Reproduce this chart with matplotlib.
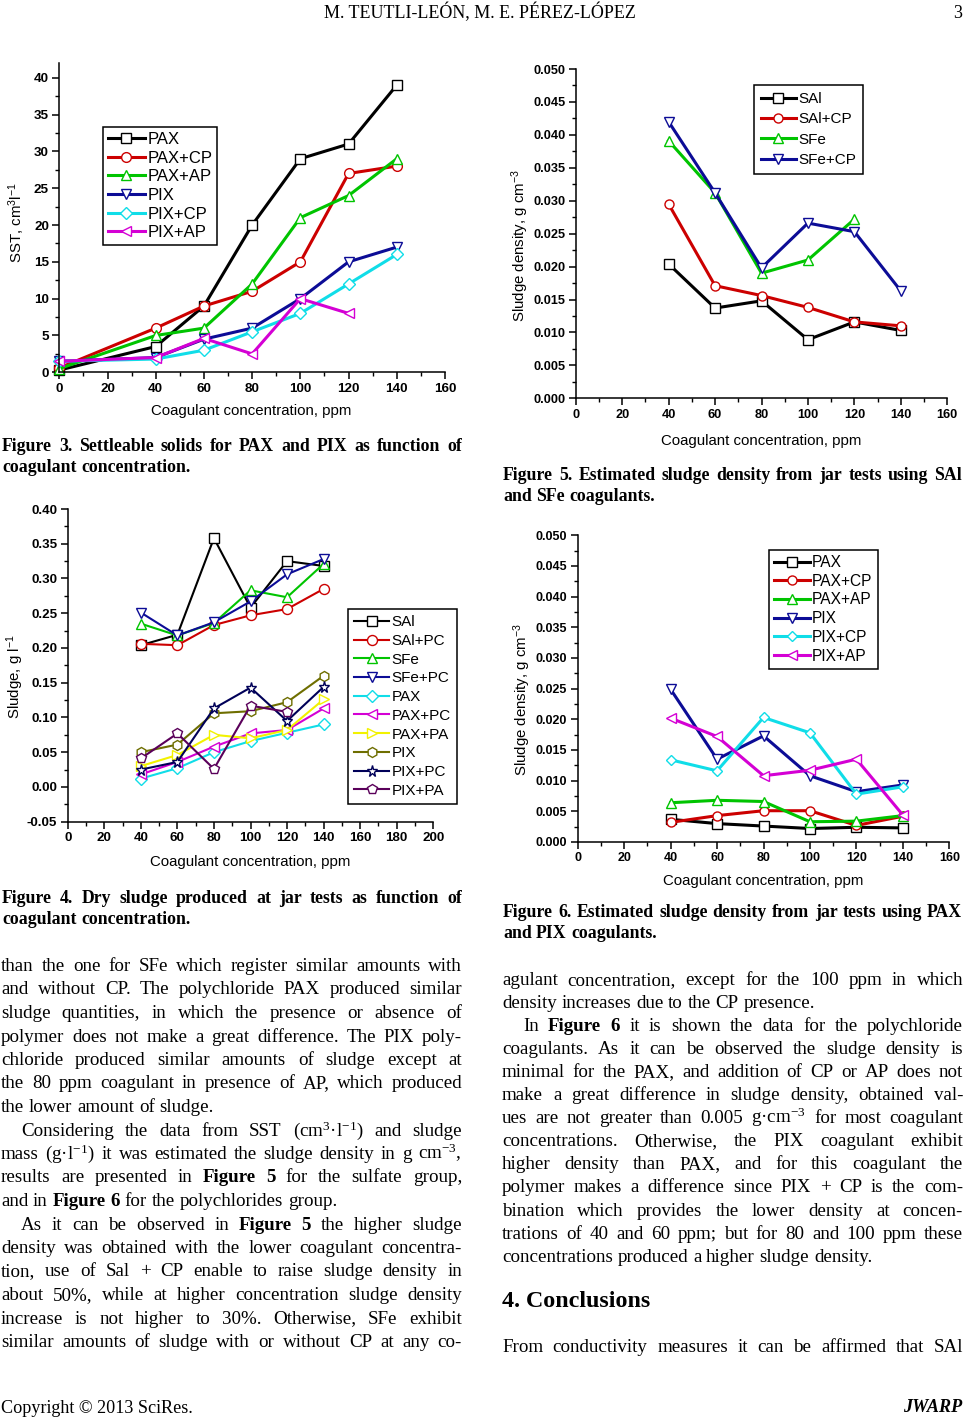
import numpy as np
import matplotlib
matplotlib.use('Agg')
import matplotlib.pyplot as plt
from matplotlib.ticker import MultipleLocator

W, H = 965, 1418
plt.rcParams['font.family'] = ['Liberation Sans', 'DejaVu Sans']
plt.rcParams['mathtext.default'] = 'regular'

# ---------------- data ----------------
# Figure 3: settleable solids (SST, cm3/l)
conc3 = [0, 40, 60, 80, 100, 120, 140]
sst_pax = [0.3, 3.5, 9, 20, 29, 31, 39]
sst_pax_cp = [0.6, 6, 9, 11, 15, 27, 28]
sst_pax_ap = [0.5, 5, 6, 12, 21, 24, 29]
sst_pix = [1.5, 2, 4.5, 6, 10, 15, 17]
sst_pix_cp = [1.5, 1.8, 3, 5.5, 8, 12, 16]
sst_pix_ap = [1.5, 2, 4.6, 2.5, 10, 8, np.nan]
labels3 = ['PAX', 'PAX+CP', 'PAX+AP', 'PIX', 'PIX+CP', 'PIX+AP']

# Figure 4: dry sludge (g/l)
conc = [40, 60, 80, 100, 120, 140]
sl_sal = [0.204, 0.219, 0.358, 0.258, 0.325, 0.318]
sl_sal_pc = [0.206, 0.204, 0.233, 0.247, 0.256, 0.285]
sl_sfe = [0.235, 0.218, 0.236, 0.283, 0.273, 0.321]
sl_sfe_pc = [0.251, 0.218, 0.237, 0.267, 0.306, 0.328]
sl_pax = [0.012, 0.027, 0.050, 0.066, 0.078, 0.090]
sl_pax_pc = [0.018, 0.036, 0.058, 0.077, 0.082, 0.113]
sl_pax_pa = [0.030, 0.046, 0.075, 0.070, 0.082, 0.126]
sl_pix = [0.050, 0.061, 0.106, 0.109, 0.122, 0.160]
sl_pix_pc = [0.025, 0.036, 0.113, 0.143, 0.095, 0.144]
sl_pix_pa = [0.041, 0.077, 0.026, 0.117, 0.108, np.nan]
labels4 = ['SAl', 'SAl+PC', 'SFe', 'SFe+PC', 'PAX', 'PAX+PC', 'PAX+PA',
           'PIX', 'PIX+PC', 'PIX+PA']

# Figure 5: sludge density, sulfates (g/cm3)
de_sal = [0.0204, 0.0137, 0.0148, 0.0089, 0.0116, 0.0103]
de_sal_cp = [0.0295, 0.0171, 0.0156, 0.0138, 0.0116, 0.0110]
de_sfe = [0.0391, 0.0312, 0.0190, 0.0210, 0.0272, np.nan]
de_sfe_cp = [0.0420, 0.0312, 0.0198, 0.0266, 0.0253, 0.0163]
labels5 = ['SAl', 'SAl+CP', 'SFe', 'SFe+CP']

# Figure 6: sludge density, polychlorides (g/cm3)
dp_pax = [0.0037, 0.0030, 0.0026, 0.0022, 0.0024, 0.0023]
dp_pax_cp = [0.0032, 0.0043, 0.0051, 0.0051, 0.0027, 0.0042]
dp_pax_ap = [0.0064, 0.0068, 0.0066, 0.0033, 0.0034, 0.0043]
dp_pix = [0.0249, 0.0135, 0.0173, 0.0108, 0.0082, 0.0093]
dp_pix_cp = [0.0134, 0.0116, 0.0203, 0.0178, 0.0078, 0.0090]
dp_pix_ap = [0.0202, 0.0172, 0.0108, 0.0117, 0.0135, 0.0044]
labels6 = ['PAX', 'PAX+CP', 'PAX+AP', 'PIX', 'PIX+CP', 'PIX+AP']

xt160 = [0, 20, 40, 60, 80, 100, 120, 140, 160]
xt200 = [0, 20, 40, 60, 80, 100, 120, 140, 160, 180, 200]
yt3 = [0, 5, 10, 15, 20, 25, 30, 35, 40]
yt4 = [-0.05, 0.00, 0.05, 0.10, 0.15, 0.20, 0.25, 0.30, 0.35, 0.40]
ytd = [0.000, 0.005, 0.010, 0.015, 0.020, 0.025, 0.030, 0.035, 0.040, 0.045, 0.050]

C_BLACK = '#000000'
C_RED = '#CC0000'
C_GREEN = '#00C400'
C_BLUE = '#0C0C96'
C_CYAN = '#10DDE8'
C_MAG = '#D400D4'
C_YEL = '#F2F200'
C_OLIVE = '#6E6E00'
C_NAVY = '#000058'
C_PURP = '#5A005A'

fig = plt.figure(figsize=(W / 100, H / 100), dpi=100)
fig.patch.set_facecolor('white')
renderer = fig.canvas.get_renderer()


def make_axes(x0, x1, ytop, ybot, xlim, ylim, xticks, yticks, yfmt, xminor, yminor, tsize):
    ax = fig.add_axes([x0 / W, 1 - ybot / H, (x1 - x0) / W, (ybot - ytop) / H])
    ax.set_xlim(*xlim)
    ax.set_ylim(*ylim)
    for s in ['top', 'right']:
        ax.spines[s].set_visible(False)
    for s in ['left', 'bottom']:
        ax.spines[s].set_linewidth(1.1)
    ax.set_xticks(xticks)
    ax.set_xticklabels([str(v) for v in xticks], fontsize=tsize, fontweight='bold')
    ax.set_yticks(yticks)
    ax.set_yticklabels([yfmt % v for v in yticks], fontsize=tsize, fontweight='bold')
    ax.xaxis.set_minor_locator(MultipleLocator(xminor))
    ax.yaxis.set_minor_locator(MultipleLocator(yminor))
    ax.tick_params(which='major', direction='out', length=5, width=1.1, pad=2.5)
    ax.tick_params(which='minor', direction='out', length=3, width=1.0)
    ax.patch.set_alpha(0)
    return ax


def series(ax, x, y, color, marker, lw, ms, label):
    return ax.plot(x, y, color=color, lw=lw, marker=marker, ms=ms, mfc='white',
                   mec=color, mew=1.0, label=label, clip_on=False)[0]


def legend(ax, x0, y0, fs, hl, ls, bp):
    leg = ax.legend(loc='upper left', bbox_to_anchor=(x0 / W, 1 - y0 / H),
                    bbox_transform=fig.transFigure, borderaxespad=0, frameon=True,
                    fancybox=False, edgecolor='black', framealpha=1, fontsize=fs,
                    handlelength=hl, handletextpad=0.15, labelspacing=ls,
                    borderpad=bp, numpoints=1)
    leg.get_frame().set_linewidth(1.1)
    return leg


def axlabel(x, y, s, rot=0, size=10.8):
    fig.text(x / W, 1 - y / H, s, ha='center', va='center', rotation=rot, fontsize=size)


# ---------------- Figure 3 ----------------
ax3 = make_axes(59.3, 445, 63, 372.3, (0, 160), (0, 42), xt160, yt3, '%d', 10, 2.5, 9.7)
lw3, ms3 = 2.2, 7
series(ax3, conc3, sst_pax, C_BLACK, 's', lw3, ms3, labels3[0])
series(ax3, conc3, sst_pax_cp, C_RED, 'o', lw3, ms3, labels3[1])
series(ax3, conc3, sst_pax_ap, C_GREEN, '^', lw3, ms3, labels3[2])
series(ax3, conc3, sst_pix, C_BLUE, 'v', lw3, ms3, labels3[3])
series(ax3, conc3, sst_pix_cp, C_CYAN, 'D', lw3, ms3 - 1, labels3[4])
series(ax3, conc3, sst_pix_ap, C_MAG, '<', lw3, ms3, labels3[5])
legend(ax3, 103, 127, 12, 2.2, 0.22, 0.3)
axlabel(251.5, 411, 'Coagulant concentration, ppm')
axlabel(17, 223, 'SST, cm$^{3}$l$^{-1}$', rot=90)

# ---------------- Figure 4 ----------------
ax4 = make_axes(67.7, 433.3, 509, 821.7, (0, 200), (-0.05, 0.40), xt200, yt4, '%.2f', 10, 0.025, 9.6)
lw4, ms4 = 1.5, 7.2
series(ax4, conc, sl_sal, C_BLACK, 's', lw4, ms4, labels4[0])
series(ax4, conc, sl_sal_pc, C_RED, 'o', lw4, ms4, labels4[1])
series(ax4, conc, sl_sfe, C_GREEN, '^', lw4, ms4, labels4[2])
series(ax4, conc, sl_sfe_pc, C_BLUE, 'v', lw4, ms4, labels4[3])
series(ax4, conc, sl_pax, C_CYAN, 'D', lw4, ms4 - 1, labels4[4])
series(ax4, conc, sl_pax_pc, C_MAG, '<', lw4, ms4, labels4[5])
series(ax4, conc, sl_pax_pa, C_YEL, '>', lw4, ms4, labels4[6])
series(ax4, conc, sl_pix, C_OLIVE, 'h', lw4, ms4, labels4[7])
series(ax4, conc, sl_pix_pc, C_NAVY, '*', lw4, ms4 + 1, labels4[8])
series(ax4, conc, sl_pix_pa, C_PURP, 'p', lw4, ms4, labels4[9])
legend(ax4, 348, 609, 11, 2.3, 0.31, 0.4)
axlabel(250, 862, 'Coagulant concentration, ppm')
axlabel(15, 677, 'Sludge, g l$^{-1}$', rot=90)

# ---------------- Figure 5 ----------------
ax5 = make_axes(575.7, 947.3, 69, 398.3, (0, 160), (0, 0.05), xt160, ytd, '%.3f', 10, 0.0025, 9.2)
lw5, ms5 = 2.2, 6.5
series(ax5, conc, de_sal, C_BLACK, 's', lw5, ms5, labels5[0])
series(ax5, conc, de_sal_cp, C_RED, 'o', lw5, ms5, labels5[1])
series(ax5, conc, de_sfe, C_GREEN, '^', lw5, ms5, labels5[2])
series(ax5, conc, de_sfe_cp, C_BLUE, 'v', lw5, ms5, labels5[3])
legend(ax5, 754, 85, 11, 2.3, 0.42, 0.45)
axlabel(761, 441, 'Coagulant concentration, ppm')
axlabel(520, 246, 'Sludge density, g cm$^{-3}$', rot=90)

# ---------------- Figure 6 ----------------
ax6 = make_axes(577.7, 949.3, 535.3, 842, (0, 160), (0, 0.05), xt160, ytd, '%.3f', 10, 0.0025, 9.0)
lw6, ms6 = 2.2, 6.5
series(ax6, conc, dp_pax, C_BLACK, 's', lw6, ms6, labels6[0])
series(ax6, conc, dp_pax_cp, C_RED, 'o', lw6, ms6, labels6[1])
series(ax6, conc, dp_pax_ap, C_GREEN, '^', lw6, ms6, labels6[2])
series(ax6, conc, dp_pix, C_BLUE, 'v', lw6, ms6, labels6[3])
series(ax6, conc, dp_pix_cp, C_CYAN, 'D', lw6, ms6 - 1, labels6[4])
series(ax6, conc, dp_pix_ap, C_MAG, '<', lw6, ms6, labels6[5])
legend(ax6, 769, 550, 11.2, 2.3, 0.24, 0.32)
axlabel(763, 881, 'Coagulant concentration, ppm')
axlabel(522, 700, 'Sludge density, g cm$^{-3}$', rot=90)

# ---------------- page text ----------------
SERIF = ['Liberation Serif', 'DejaVu Serif']


def place_words(line, x0, x1, yb, size, justify, weight='normal', style='normal'):
    words = line.split(' ')
    arts, widths = [], []
    for w in words:
        wt = weight
        if w.startswith('**') and w.endswith('**'):
            w = w[2:-2]
            wt = 'bold'
        t = fig.text(0, 1 - yb / H, w, fontsize=size, fontweight=wt, fontstyle=style,
                     family=SERIF, ha='left', va='baseline')
        arts.append(t)
        widths.append(t.get_window_extent(renderer).width)
    total = sum(widths)
    if justify and len(words) > 1:
        gap = (x1 - x0 - total) / (len(words) - 1)
    else:
        gap = size * 100 / 72 * 0.25
    x = x0
    for t, wd in zip(arts, widths):
        t.set_x(x / W)
        x += wd + gap


BODY = 13.7
CAP = 12.8

# header / footer
fig.text(480 / W, 1 - 18 / H, 'M. TEUTLI-LEÓN, M. E. PÉREZ-LÓPEZ', family=SERIF,
         fontsize=13, ha='center', va='baseline')
fig.text(962 / W, 1 - 18 / H, '3', family=SERIF, fontsize=13, ha='right', va='baseline')
fig.text(1 / W, 1 - 1413 / H, 'Copyright © 2013 SciRes.', family=SERIF, fontsize=13.1,
         ha='left', va='baseline')
fig.text(962 / W, 1 - 1412 / H, 'JWARP', family=SERIF, fontsize=13.1, fontweight='bold',
         fontstyle='italic', ha='right', va='baseline')

# captions
captions = [
    (2, 462, 451, ['Figure 3. Settleable solids for PAX and PIX as function of',
                   'coagulant concentration.']),
    (2, 462, 903, ['Figure 4. Dry sludge produced at jar tests as function of',
                   'coagulant concentration.']),
    (503, 962, 480, ['Figure 5. Estimated sludge density from jar tests using SAl',
                     'and SFe coagulants.']),
    (503, 962, 916.7, ['Figure 6. Estimated sludge density from jar tests using PAX',
                       'and PIX coagulants.']),
]
for x0, x1, yb, lines in captions:
    place_words(lines[0], x0, x1, yb, CAP, True, weight='bold')
    place_words(lines[1], x0, x1, yb + 21.5, CAP, False, weight='bold')

left_lines = [
    "than the one for SFe which register similar amounts with",
    "and without CP. The polychloride PAX produced similar",
    "sludge quantities, in which the presence or absence of",
    "polymer does not make a great difference. The PIX poly-",
    "chloride produced similar amounts of sludge except at",
    "the 80 ppm coagulant in presence of AP, which produced",
    "the lower amount of sludge.",
    "Considering the data from SST (cm$^{3}$·l$^{-1}$) and sludge",
    "mass (g·l$^{-1}$) it was estimated the sludge density in g cm$^{-3}$,",
    "results are presented in **Figure** **5** for the sulfate group,",
    "and in **Figure** **6** for the polychlorides group.",
    "As it can be observed in **Figure** **5** the higher sludge",
    "density was obtained with the lower coagulant concentra-",
    "tion, use of Sal + CP enable to raise sludge density in",
    "about 50%, while at higher concentration sludge density",
    "increase is not higher to 30%. Otherwise, SFe exhibit",
    "similar amounts of sludge with or without CP at any co-",
]
left_indent = {7, 11}
left_last = {6, 10}
for i, ln in enumerate(left_lines):
    x0 = 1 + (20 if i in left_indent else 0)
    place_words(ln, x0, 462, 971 + 23.5 * i, BODY, i not in left_last)

right_lines = [
    "agulant concentration, except for the 100 ppm in which",
    "density increases due to the CP presence.",
    "In **Figure** **6** it is shown the data for the polychloride",
    "coagulants. As it can be observed the sludge density is",
    "minimal for the PAX, and addition of CP or AP does not",
    "make a great difference in sludge density, obtained val-",
    "ues are not greater than 0.005 g·cm$^{-3}$ for most coagulant",
    "concentrations. Otherwise, the PIX coagulant exhibit",
    "higher density than PAX, and for this coagulant the",
    "polymer makes a difference since PIX + CP is the com-",
    "bination which provides the lower density at concen-",
    "trations of 40 and 60 ppm; but for 80 and 100 ppm these",
    "concentrations produced a higher sludge density.",
]
right_indent = {2}
right_last = {1, 12}
for i, ln in enumerate(right_lines):
    x0 = 502 + (21 if i in right_indent else 0)
    place_words(ln, x0, 963, 985 + 23.05 * i, BODY, i not in right_last)

fig.text(502 / W, 1 - 1306.7 / H, '4. Conclusions', family=SERIF, fontsize=17.3,
         fontweight='bold', ha='left', va='baseline')
place_words("From conductivity measures it can be affirmed that SAl", 502, 963, 1351.7, BODY, True)

fig.savefig('out.png', dpi=100, facecolor='white')
